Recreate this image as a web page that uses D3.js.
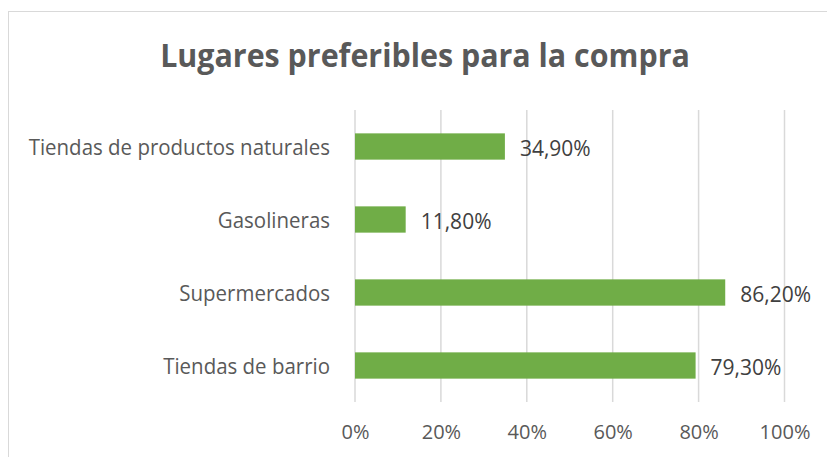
<!DOCTYPE html>
<html>
<head>
<meta charset="utf-8">
<script src="https://cdn.jsdelivr.net/npm/d3@7"></script>
<style>
  body { margin: 0; background: #fff; }
  svg { display: block; font-family: "Open Sans", sans-serif; }
</style>
</head>
<body>
<svg width="827" height="457"></svg>
<script>
var categories = ["Tiendas de productos naturales", "Gasolineras", "Supermercados", "Tiendas de barrio"];
var values = [34.9, 11.8, 86.2, 79.3];
var tickValues = [0, 20, 40, 60, 80, 100];
var title = "Lugares preferibles para la compra";

var svg = d3.select("svg"),
    width = +svg.attr("width"),
    height = +svg.attr("height");

var data = categories.map(function(c, i) { return {name: c, value: values[i]}; });

var plot = {left: 355, right: 784.5, top: 110, bottom: 402};

// squeeze text a bit, the original font is narrower than Open Sans
function narrow(sel, k) {
  sel.each(function() {
    var len = this.getComputedTextLength();
    d3.select(this).attr("textLength", len * k).attr("lengthAdjust", "spacingAndGlyphs");
  });
}

// chart frame
svg.append("rect")
    .attr("x", 8.5).attr("y", 11.5)
    .attr("width", 900).attr("height", 600)
    .attr("fill", "none")
    .attr("stroke", "#d9d9d9");

svg.append("text")
    .attr("x", 425).attr("y", 66.5)
    .attr("text-anchor", "middle")
    .attr("font-size", 32)
    .attr("font-weight", "bold")
    .attr("fill", "#595959")
    .text(title)
    .call(narrow, 0.95);

var x = d3.scaleLinear().domain([0, 100]).range([plot.left, plot.right]);
var y = d3.scaleBand().domain(categories).range([plot.top, plot.bottom]).paddingInner(0.64).paddingOuter(0.32);

// gridlines
svg.append("g")
    .selectAll("line")
    .data(tickValues)
    .enter().append("line")
      .attr("x1", function(d) { return x(d); })
      .attr("x2", function(d) { return x(d); })
      .attr("y1", plot.top)
      .attr("y2", plot.bottom)
      .attr("stroke", "#d9d9d9")
      .attr("stroke-width", 1.5);

// x axis labels
var xAxis = svg.append("g")
    .attr("transform", "translate(0," + plot.bottom + ")")
    .call(d3.axisBottom(x).tickValues(tickValues).tickSize(0).tickPadding(23)
      .tickFormat(function(d) { return d + "%"; }));
xAxis.select(".domain").remove();
xAxis.selectAll("text")
    .attr("font-family", "Open Sans, sans-serif")
    .attr("font-size", 20)
    .attr("fill", "#595959");

// y axis labels
var yAxis = svg.append("g")
    .attr("transform", "translate(" + plot.left + ",0)")
    .call(d3.axisLeft(y).tickSize(0).tickPadding(25));
yAxis.select(".domain").remove();
yAxis.selectAll("text")
    .attr("font-family", "Open Sans, sans-serif")
    .attr("font-size", 22)
    .attr("dy", "0.38em")
    .attr("fill", "#595959")
    .call(narrow, 0.93);

// bars
svg.append("g")
    .selectAll("rect")
    .data(data)
    .enter().append("rect")
      .attr("x", x(0))
      .attr("y", function(d) { return y(d.name); })
      .attr("width", function(d) { return x(d.value) - x(0); })
      .attr("height", y.bandwidth())
      .attr("fill", "#70ad47");

// value labels
svg.append("g")
    .selectAll("text")
    .data(data)
    .enter().append("text")
      .attr("x", function(d) { return x(d.value) + 15; })
      .attr("y", function(d) { return y(d.name) + y.bandwidth() / 2; })
      .attr("dy", "0.43em")
      .attr("font-size", 21)
      .attr("fill", "#404040")
      .text(function(d) { return d.value.toFixed(2).replace(".", ",") + "%"; });
</script>
</body>
</html>
